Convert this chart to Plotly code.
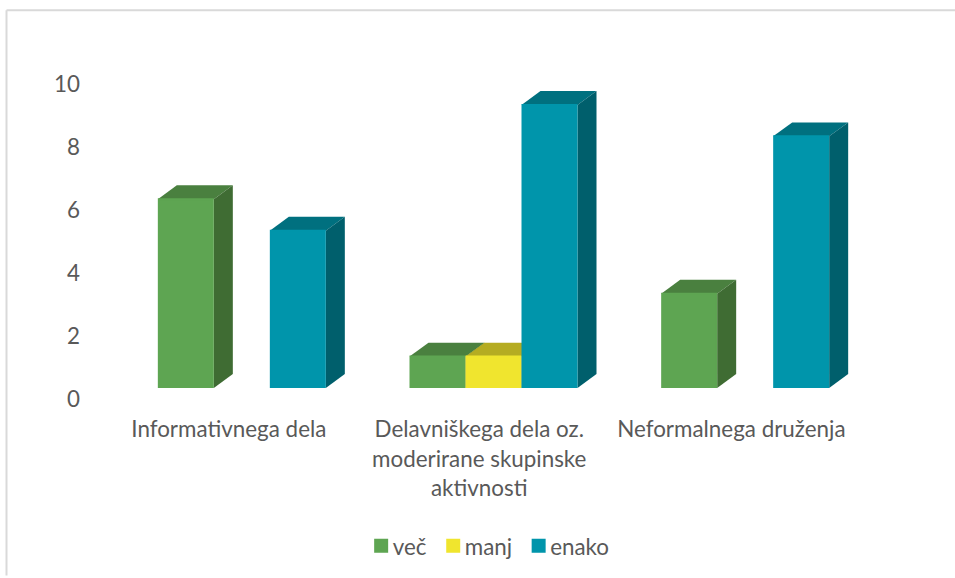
import plotly.graph_objects as go

categories = ["Informativnega dela",
              "Delavniškega dela oz.<br>moderirane skupinske<br>aktivnosti",
              "Neformalnega druženja"]
series_names = ["več", "manj", "enako"]
vec = [6, 1, 3]
manj = [None, 1, None]
enako = [5, 9, 8]
front_colors = ["#5EA552", "#F0E52E", "#0095AB"]
top_colors = ["#4A803F", "#B5AC22", "#00707F"]
side_colors = ["#3F6C33", "#9A9118", "#005F6C"]
y_ticks = [0, 2, 4, 6, 8, 10]

W, H = 955, 578
L, R, T, B = 116, 871, 41.5, 389.5
Y_TOP = 11
px_x = (R - L) / 3.0
px_y = (B - T) / Y_TOP
slot = 56 / px_x
depth_x = 19 / px_x
depth_y = 14 / px_y
line_px = 2

fig = go.Figure()
shapes = [
    dict(type="line", xref="paper", yref="paper", x0=-(L-6.5)/(R-L), x1=(W-L)/(R-L),
         y0=1+(T-9.5)/(B-T), y1=1+(T-9.5)/(B-T), line=dict(color="#D9D9D9", width=2), layer="below"),
    dict(type="line", xref="paper", yref="paper", x0=-(L-6.5)/(R-L), x1=-(L-6.5)/(R-L),
         y0=-(H-B)/(B-T), y1=1+(T-9.5)/(B-T), line=dict(color="#D9D9D9", width=2), layer="below"),
]
for s, (name, vals) in enumerate(zip(series_names, [vec, manj, enako])):
    xs = [c + (s - 1) * slot for c in range(3)]
    fig.add_trace(go.Bar(
        x=xs, y=vals, name=name, width=slot - line_px / px_x,
        marker=dict(color=front_colors[s], line=dict(color=front_colors[s], width=line_px)),
    ))
    for x, v in zip(xs, vals):
        if v is None:
            continue
        a, b = x - slot / 2, x + slot / 2
        top = f"M{a},{v} L{a+depth_x},{v+depth_y} L{b+depth_x},{v+depth_y} L{b},{v} Z"
        side = f"M{b},0 L{b+depth_x},{depth_y} L{b+depth_x},{v+depth_y} L{b},{v} Z"
        shapes.append(dict(type="path", path=top, xref="x", yref="y", layer="below",
                           fillcolor=top_colors[s], line=dict(width=0)))
        shapes.append(dict(type="path", path=side, xref="x", yref="y", layer="below",
                           fillcolor=side_colors[s], line=dict(width=0)))

fig.update_layout(
    width=W, height=H, autosize=False,
    margin=dict(l=L, r=W - R, t=T, b=H - B, pad=0),
    paper_bgcolor="white", plot_bgcolor="rgba(0,0,0,0)",
    barmode="overlay",
    font=dict(family="Lato", size=22.4, color="#595959"),
    shapes=shapes,
    showlegend=True,
    legend=dict(orientation="h", x=0.5075, xanchor="center", y=-0.453, yanchor="middle",
                font=dict(size=22.4, color="#595959"), traceorder="normal",
                bgcolor="rgba(0,0,0,0)"),
    xaxis=dict(range=[-0.5, 2.5], tickmode="array", tickvals=[0, 0.995, 1.997], ticktext=categories,
               showgrid=False, zeroline=False, showline=False, ticks="",
               ticklabelstandoff=26, ticklabelshift=-13),
    yaxis=dict(range=[0, Y_TOP], tickmode="array", tickvals=y_ticks,
               showgrid=False, zeroline=False, showline=False, ticks="",
               ticklabelstandoff=35, ticklabelshift=11),
)
post = """
document.body.style.margin='0';
(function(){
  document.querySelectorAll('.legend .traces').forEach(function(g,i){
    var t=g.querySelector('.legendtext');
    if(t){t.setAttribute('x','31.5');}
    var m=/translate\\(([-\\d.]+),\\s*([-\\d.]+)\\)/.exec(g.getAttribute('transform')||'');
    if(m){g.setAttribute('transform','translate('+(parseFloat(m[1])-7*i)+','+m[2]+')');}
  });
})();
"""
fig.write_html("out.html", post_script=post, config=dict(displayModeBar=False))
